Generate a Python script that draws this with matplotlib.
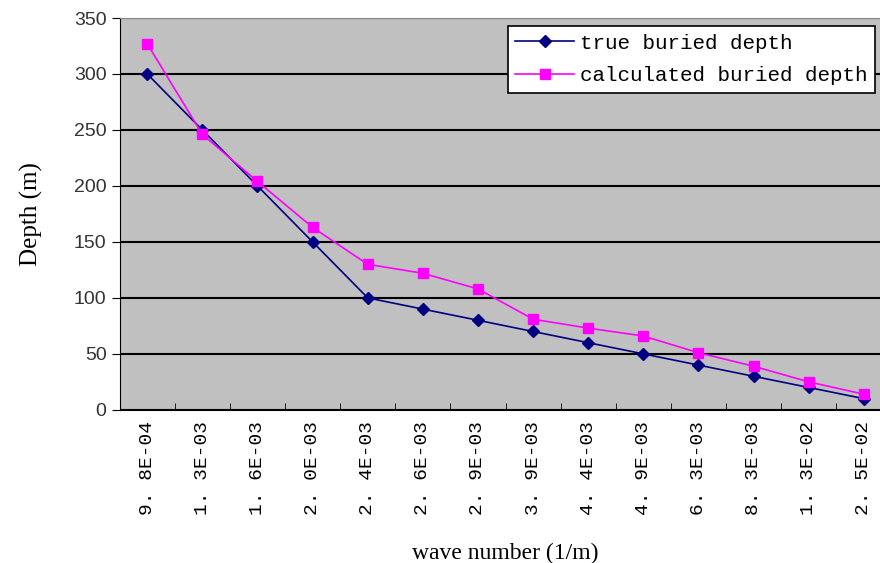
import numpy as np
import matplotlib.pyplot as plt

wave_labels = ['9. 8E-04', '1. 3E-03', '1. 6E-03', '2. 0E-03', '2. 4E-03', '2. 6E-03', '2. 9E-03',
               '3. 9E-03', '4. 4E-03', '4. 9E-03', '6. 3E-03', '8. 3E-03', '1. 3E-02', '2. 5E-02']
true_depth = [300, 250, 200, 150, 100, 90, 80, 70, 60, 50, 40, 30, 20, 10]
calc_depth = [327, 246, 204, 163, 130, 122, 108, 81, 73, 66, 51, 39, 25, 14]

fig = plt.figure(figsize=(8.8, 5.63), dpi=100)
ax = fig.add_axes([0.136, 0.272, 0.877, 0.696])
ax.set_facecolor('#c0c0c0')

x = np.arange(len(wave_labels))
ax.plot(x, true_depth, color='#000080', marker='D', markersize=6, lw=1.2,
        label='true buried depth')
ax.plot(x, calc_depth, color='#ff00ff', marker='s', markersize=7, lw=1.2,
        label='calculated buried depth')

ax.set_xlim(-0.5, len(wave_labels) - 0.5)
ax.set_ylim(0, 350)
ax.set_yticks(np.arange(0, 351, 50))
ax.yaxis.grid(True, color='black', lw=1.5)
ax.set_axisbelow(True)

ax.set_xticks(x)
ax.set_xticklabels(wave_labels, rotation=90, family='Liberation Mono', fontsize=14)
ax.tick_params(axis='x', length=0, pad=8)
ax.set_xticks(np.arange(0.5, len(wave_labels) - 0.5), minor=True)
ax.tick_params(axis='x', which='minor', direction='in', length=5, color='black')
ax.tick_params(axis='y', direction='out', length=6, labelsize=14, labelcolor='#333333')
for lab in ax.get_yticklabels():
    lab.set_family('Liberation Sans')

for side in ['top', 'right']:
    ax.spines[side].set_color('#888888')
ax.spines['left'].set_color('black')
ax.spines['bottom'].set_color('black')

ax.set_ylabel('Depth (m)', family='Liberation Serif', fontsize=18, labelpad=22)
ax.set_xlabel('wave number (1/m)', family='Liberation Serif', fontsize=17, labelpad=20)

leg = fig.legend(loc='upper right', bbox_to_anchor=(0.994, 0.953),
                 prop={'family': 'Liberation Mono', 'size': 15},
                 fancybox=False, framealpha=1, edgecolor='black', borderpad=0.35,
                 handlelength=2.8, handletextpad=0.3, labelspacing=0.65, borderaxespad=0)
leg.get_frame().set_linewidth(1.2)

fig.savefig('out.png', dpi=100, facecolor='white')
